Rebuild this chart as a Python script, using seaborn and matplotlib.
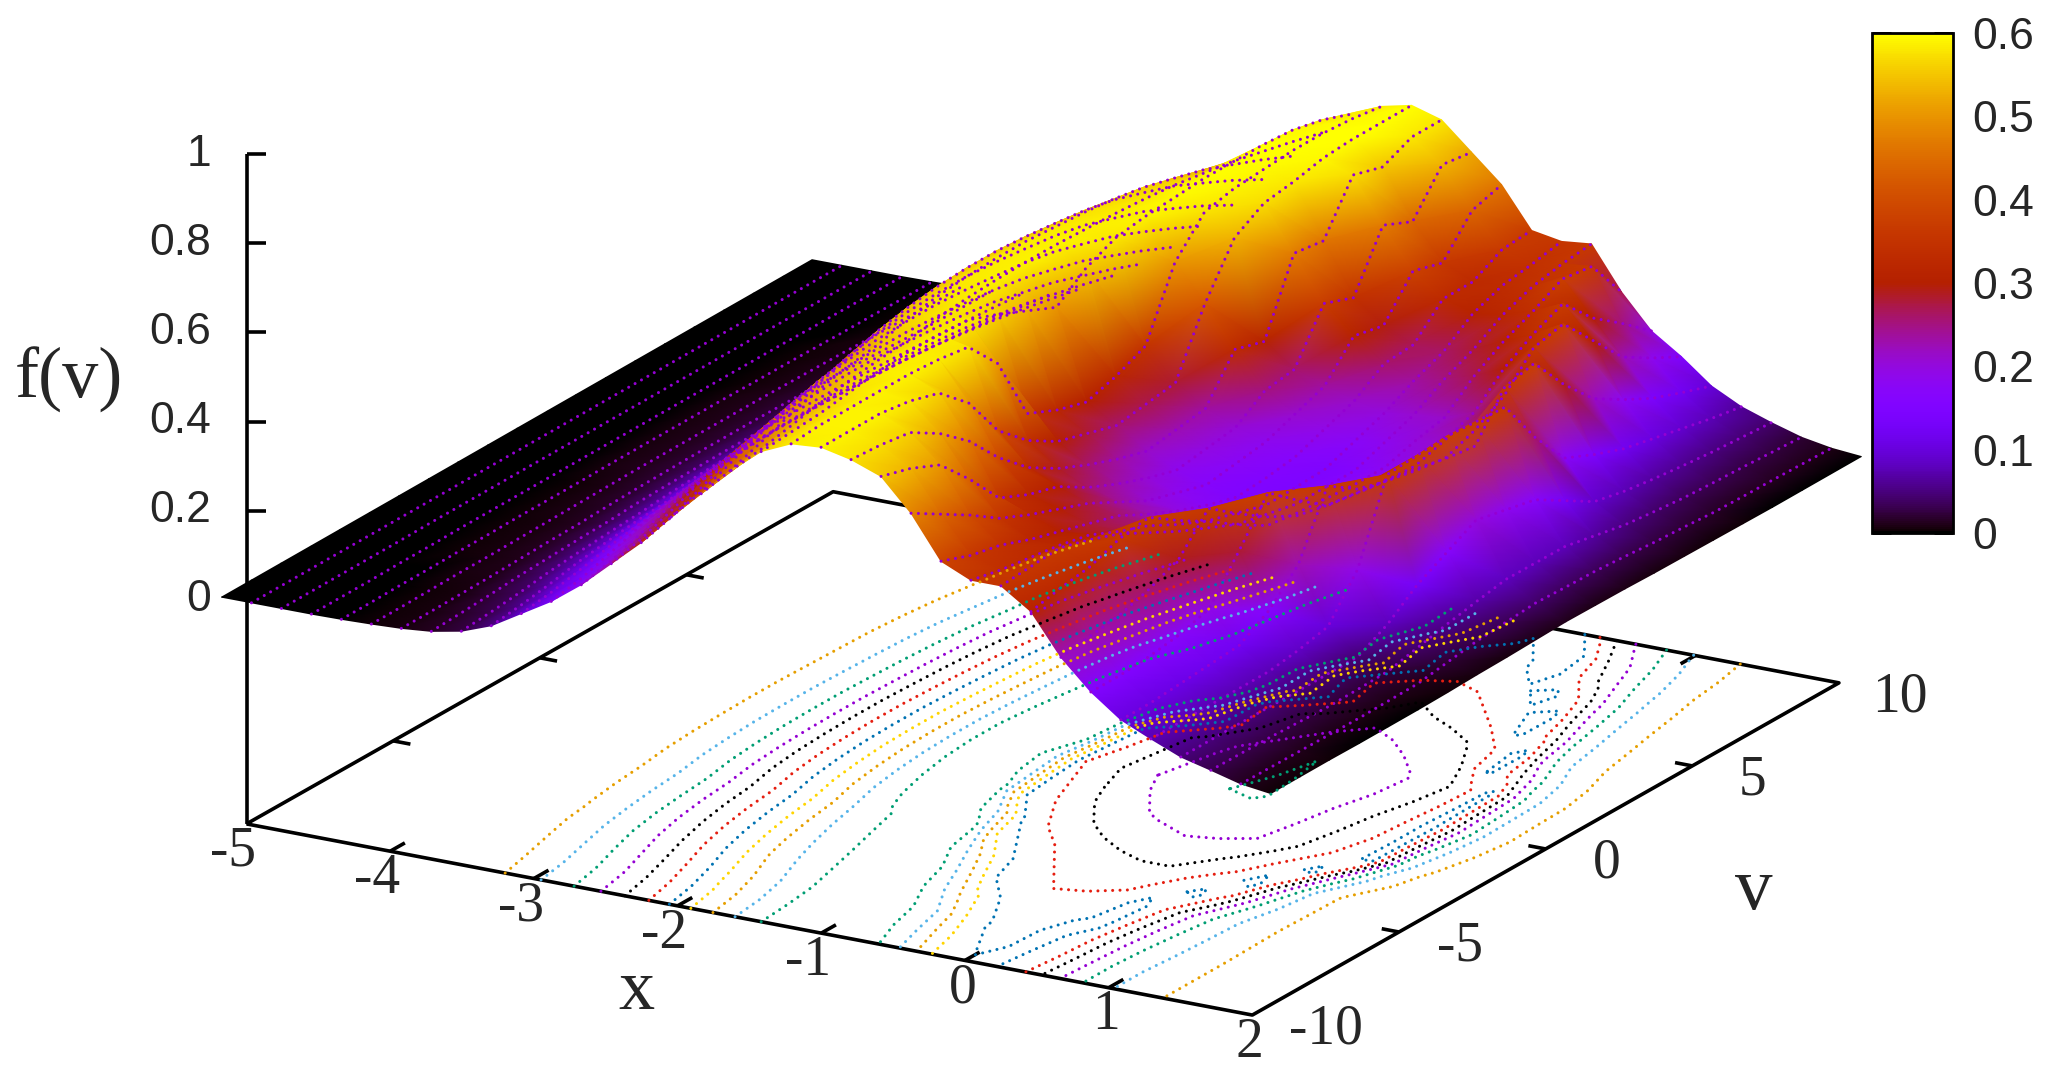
import numpy as np
import matplotlib
matplotlib.use('Agg')
import matplotlib.pyplot as plt
import seaborn as sns

x_vals = [-5.0, -4.8, -4.6, -4.4, -4.2, -4.0, -3.8, -3.6, -3.4, -3.2, -3.0, -2.8, -2.6, -2.4, -2.2, -2.0, -1.8, -1.6,
          -1.4, -1.2, -1.0, -0.8, -0.6, -0.4, -0.2, 0.0, 0.2, 0.4, 0.6, 0.8, 1.0, 1.2, 1.4, 1.6, 1.8, 2.0]
v_vals = [-10, -9, -8, -7, -6, -5, -4, -3, -2, -1, 0, 1, 2, 3, 4, 5, 6, 7, 8, 9, 10]

# f(x, v), one row per x
f_vals = [
    [0, 0, 0, 0, 0, 0, 0, 0, 0, 0, 0, 0, 0, 0, 0, 0, 0, 0, 0, 0, 0],
    [0, 0, 0, 0, 0, 0, 0, 0, 0, 0, 0, 0, 0, 0, 0, 0, 0, 0, 0, 0, 0],
    [0, 0, 0, 0, 0, .001, .001, .001, .001, .001, .001, .001, .001, .001, .001, .001, .001, .001, 0, 0, 0],
    [0, 0, 0, .001, .001, .002, .002, .002, .002, .002, .002, .002, .002, .002, .002, .002, .002, .001, .001, 0, 0],
    [.001, .001, .002, .002, .003, .003, .004, .004, .004, .005, .005, .005, .005, .005, .004, .004, .003, .002, .002, .001, .001],
    [.003, .003, .004, .005, .005, .006, .007, .008, .009, .01, .01, .01, .01, .01, .009, .008, .007, .005, .004, .003, .003],
    [.006, .006, .007, .008, .01, .012, .013, .016, .018, .019, .02, .02, .02, .019, .018, .016, .013, .01, .008, .007, .006],
    [.012, .015, .019, .024, .027, .030, .032, .036, .038, .039, .04, .04, .039, .038, .037, .034, .031, .027, .023, .018, .012],
    [.025, .03, .037, .046, .052, .057, .061, .067, .071, .074, .075, .075, .073, .071, .069, .065, .059, .052, .044, .035, .025],
    [.05, .058, .069, .082, .091, .099, .104, .114, .12, .124, .125, .125, .123, .12, .116, .11, .101, .091, .079, .065, .05],
    [.09, .099, .113, .128, .14, .149, .155, .167, .174, .178, .18, .18, .177, .174, .169, .162, .151, .14, .124, .108, .09],
    [.13, .143, .163, .185, .202, .215, .224, .241, .251, .257, .26, .26, .256, .251, .244, .234, .218, .202, .179, .156, .13],
    [.18, .195, .218, .243, .263, .278, .288, .308, .32, .327, .33, .33, .326, .32, .312, .30, .282, .263, .237, .21, .18],
    [.24, .257, .281, .309, .331, .347, .359, .38, .393, .402, .405, .405, .40, .393, .385, .372, .352, .331, .303, .273, .24],
    [.30, .318, .345, .376, .399, .417, .43, .453, .467, .476, .48, .48, .475, .467, .458, .444, .422, .399, .368, .336, .30],
    [.37, .388, .415, .446, .469, .487, .50, .523, .537, .546, .55, .55, .545, .537, .528, .514, .492, .469, .438, .406, .37],
    [.435, .45, .473, .498, .518, .533, .543, .563, .575, .582, .585, .585, .58, .575, .567, .555, .537, .518, .492, .465, .435],
    [.50, .509, .523, .538, .55, .559, .565, .577, .584, .588, .59, .59, .587, .584, .579, .572, .561, .55, .534, .518, .50],
    [.555, .56, .565, .575, .585, .59, .59, .585, .56, .53, .50, .55, .58, .59, .595, .60, .60, .60, .595, .58, .555],
    [.585, .59, .59, .59, .59, .585, .575, .50, .35, .32, .30, .32, .35, .50, .575, .59, .595, .60, .60, .595, .585],
    [.59, .59, .59, .58, .56, .50, .40, .34, .30, .28, .26, .27, .28, .42, .53, .57, .58, .595, .60, .60, .60],
    [.575, .57, .56, .52, .465, .39, .33, .29, .26, .235, .215, .225, .235, .33, .31, .47, .46, .57, .55, .58, .58],
    [.55, .53, .50, .43, .35, .32, .30, .26, .23, .205, .185, .195, .205, .25, .26, .37, .345, .47, .44, .53, .52],
    [.48, .44, .40, .355, .325, .30, .275, .24, .205, .185, .165, .175, .185, .21, .235, .31, .295, .38, .36, .44, .46],
    [.385, .36, .345, .32, .30, .28, .26, .225, .195, .17, .15, .155, .165, .19, .215, .26, .265, .33, .33, .365, .37],
    [.355, .34, .33, .32, .305, .275, .25, .215, .185, .165, .145, .147, .15, .175, .20, .235, .262, .31, .335, .345, .358],
    [.355, .36, .365, .345, .32, .285, .25, .22, .19, .175, .16, .16, .16, .185, .21, .25, .28, .32, .345, .358, .365],
    [.31, .325, .335, .36, .37, .325, .285, .24, .20, .19, .185, .18, .18, .20, .215, .27, .31, .34, .375, .365, .27],
    [.22, .23, .24, .26, .29, .365, .315, .27, .235, .22, .21, .20, .195, .215, .24, .30, .34, .37, .30, .25, .195],
    [.155, .155, .16, .17, .19, .28, .375, .32, .27, .26, .25, .235, .225, .25, .29, .36, .375, .30, .225, .185, .15],
    [.105, .105, .11, .115, .12, .16, .225, .365, .32, .30, .29, .275, .265, .36, .375, .29, .22, .18, .145, .12, .097],
    [.075, .075, .075, .075, .075, .085, .10, .19, .365, .37, .375, .37, .365, .26, .175, .145, .12, .105, .09, .075, .063],
    [.047, .047, .047, .046, .045, .045, .045, .08, .13, .165, .20, .185, .17, .13, .09, .075, .065, .057, .05, .045, .04],
    [.03, .029, .028, .025, .022, .023, .025, .04, .055, .068, .08, .079, .078, .064, .05, .042, .035, .031, .028, .024, .02],
    [.012, .011, .01, .009, .008, .009, .01, .02, .03, .035, .04, .037, .035, .03, .024, .02, .015, .013, .012, .01, .008],
    [.003, .003, .003, .002, .002, .002, .003, .005, .006, .008, .01, .009, .008, .006, .005, .004, .003, .002, .002, .002, .002],
]

contour_levels = [.05, .10, .15, .20, .25, .30, .35, .40, .45, .50, .55]
contour_colors = ['#e69f00', '#56b4e9', '#009e73', '#9400d3', '#000000', '#e51e10', '#0072b2', '#ffd500', '#e69f00',
                  '#56b4e9', '#009e73']

z_ticks = [0, 0.2, 0.4, 0.6, 0.8, 1]
z_tick_labels = ['0', '0.2', '0.4', '0.6', '0.8', '1']
x_ticks = [-5, -4, -3, -2, -1, 0, 1, 2]
v_ticks = [-10, -5, 0, 5, 10]
cb_ticks = [0, 0.1, 0.2, 0.3, 0.4, 0.5, 0.6]
cb_tick_labels = ['0', '0.1', '0.2', '0.3', '0.4', '0.5', '0.6']

# view calibration, in pixels of the 1568 wide preview
PX = 2067 / 1568
SERIF = 'Liberation Serif'
SANS = 'Liberation Sans'
DOTS = (0, (0.01, 2.4))

sns.set_theme(style='white')
plt.rcParams['font.family'] = [SANS, 'DejaVu Sans']


def to_floor(x, v):
    u = (np.asarray(x, dtype=float) + 5) / 7
    w = (np.asarray(v, dtype=float) + 10) / 20
    return (187 + 763 * u + 445 * w) * PX, (625 + 145 * u - 252 * w) * PX


def to_surface(x, v, z):
    u = (np.asarray(x, dtype=float) + 5) / 7
    w = (np.asarray(v, dtype=float) + 10) / 20
    return (168 + 796 * u + 448 * w) * PX, (453 + 150 * u - 256 * w - 338 * np.asarray(z, dtype=float)) * PX


def axis_line(ax, xs, ys, zorder=1):
    ax.plot(xs, ys, color='black', lw=2.6, solid_capstyle='butt', zorder=zorder)


fig = plt.figure(figsize=(20.67, 10.71), dpi=100)
ax = fig.add_axes([0, 0, 1, 1])

X, V = np.meshgrid(x_vals, v_vals, indexing='ij')
F = np.array(f_vals)

# floor frame
ends_x, ends_y = to_floor([-5, 2, 2, -5, -5], [-10, -10, 10, 10, -10])
axis_line(ax, ends_x, ends_y)
for t in x_ticks[1:-1]:
    tx, ty = to_floor([t, t], [-10, -9.5])
    axis_line(ax, tx, ty)
    tx, ty = to_floor([t, t], [10, 9.5])
    axis_line(ax, tx, ty)
for t in v_ticks[1:-1]:
    tx, ty = to_floor([2, 1.88], [t, t])
    axis_line(ax, tx, ty)
    tx, ty = to_floor([-5, -4.88], [t, t])
    axis_line(ax, tx, ty)

# z axis stands on the x=-5, v=-10 corner
zx, zy = to_floor(-5, -10)
axis_line(ax, [zx, zx], [zy, 117 * PX])
for t, lab in zip(z_ticks, z_tick_labels):
    ty = (455 - 338 * t) * PX
    axis_line(ax, [zx, zx + 15 * PX], [ty, ty])
    ax.text(zx - 27 * PX, ty, lab, ha='right', va='center', fontsize=32, family=SANS)

# surface, triangles ordered far to near so later ones cover earlier ones
sx, sy = to_surface(X, V, F)
nx, nv = F.shape
tris = []
for j in range(nv - 2, -1, -1):
    for i in range(nx - 1):
        a = i * nv + j
        b = (i + 1) * nv + j
        c = (i + 1) * nv + j + 1
        d = i * nv + j + 1
        tris.append([a, d, c])
        tris.append([a, c, b])
mesh = ax.tripcolor(sx.ravel(), sy.ravel(), np.array(tris), F.ravel(), shading='gouraud', cmap='gnuplot', vmin=0,
                    vmax=0.6, zorder=2)

# constant x dotted lines
for i in range(1, nx - 1):
    sns.lineplot(x=sx[i], y=sy[i], sort=False, estimator=None, errorbar=None, color='#9400d3', lw=2.2, linestyle=DOTS,
                 dash_capstyle='round', legend=False, ax=ax, zorder=3)

# contours on the floor, drawn over the surface like in gnuplot
fx, fy = to_floor(X, V)
cs = ax.contour(fx, fy, F, levels=contour_levels, colors=sns.color_palette(contour_colors), linewidths=2.2,
                linestyles=[DOTS], zorder=4)
cs.set_capstyle('round')

# tick labels
for t in x_ticks:
    tx, ty = to_floor(t, -10)
    shift = -10 if t < 0 else -2
    ax.text(tx + shift * PX, ty + 21 * PX, str(t), ha='center', va='center', fontsize=40, family=SERIF)
for t in v_ticks:
    tx, ty = to_floor(2, t)
    shift = 56 if t == -10 else 46
    ax.text(tx + shift * PX, ty + 11 * PX, str(t), ha='center', va='center', fontsize=40, family=SERIF)
ax.text(483 * PX, 752 * PX, 'x', ha='center', va='center', fontsize=52, family=SERIF)
ax.text(1330 * PX, 676 * PX, 'v', ha='center', va='center', fontsize=54, family=SERIF)
ax.text(52 * PX, 288 * PX, 'f(v)', ha='center', va='center', fontsize=52, family=SERIF)

ax.set_xlim(0, 2067)
ax.set_ylim(1071, 0)
ax.set_axis_off()

# colour box
cax = fig.add_axes([1872 / 2067, 1 - 533 / 1071, 81 / 2067, 500 / 1071])
cb = fig.colorbar(mesh, cax=cax, ticks=cb_ticks)
cb.ax.set_yticklabels(cb_tick_labels, fontsize=32, family=SANS)
cb.ax.tick_params(direction='in', length=14, width=2, left=True, right=True, pad=14, color='black')
cb.outline.set_linewidth(2)
cb.outline.set_edgecolor('black')

fig.savefig('out.png', dpi=100, facecolor='white')
